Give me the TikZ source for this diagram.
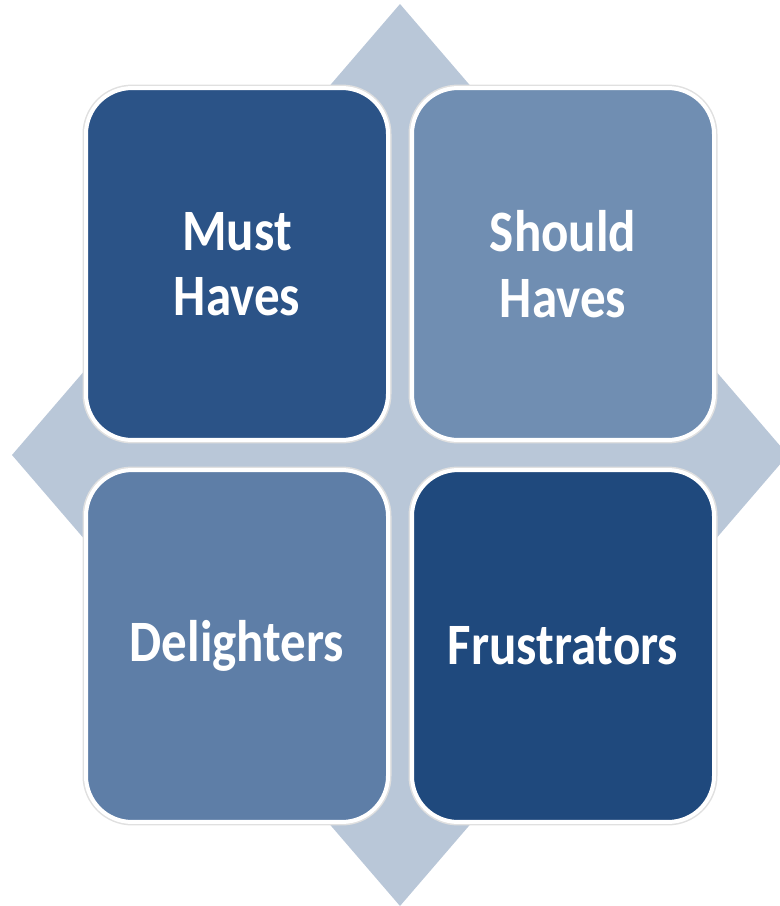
\documentclass[tikz,border=0pt]{standalone}
\usepackage{fontspec}
\setmainfont{Carlito}
\usepackage{tikz}
\usetikzlibrary{calc}

\definecolor{diam}{RGB}{185,199,216}
\definecolor{mustc}{RGB}{43,83,135}
\definecolor{shouldc}{RGB}{112,142,178}
\definecolor{delc}{RGB}{94,126,167}
\definecolor{frusc}{RGB}{31,73,125}

\tikzset{
  quad/.style={rounded corners=46pt,minimum width=302pt,minimum height=306pt,
    yscale=1.15,transform shape,
    inner sep=0pt,draw=white,line width=4pt,
    preaction={draw=black!12,line width=7pt},
    text=white,align=center,font=\fontsize{51}{57}\selectfont\bfseries},
}

\begin{document}
\begin{tikzpicture}[x=1pt,y=-1pt]
      \useasboundingbox(0,0)rectangle(780,906);
      \begin{scope}\clip(0,0)rectangle(780,906);
      \coordinate(O) at (400,455);
      % background diamond
      \fill[diam]($(O)+(0,-451)$)--($(O)+(388,0)$)--($(O)+(0,451)$)--($(O)+(-388,0)$)--cycle;
      \end{scope}

      \node[quad,fill=mustc](must) at (237,264){Must\\Haves};
      \node[quad,fill=shouldc](should) at (563,264){Should\\Haves};
      \node[quad,fill=delc](delight) at (237,646){Delighters};
      \node[quad,fill=frusc](frustr) at (563,646){Frustrators};
    \end{tikzpicture}
\end{document}
